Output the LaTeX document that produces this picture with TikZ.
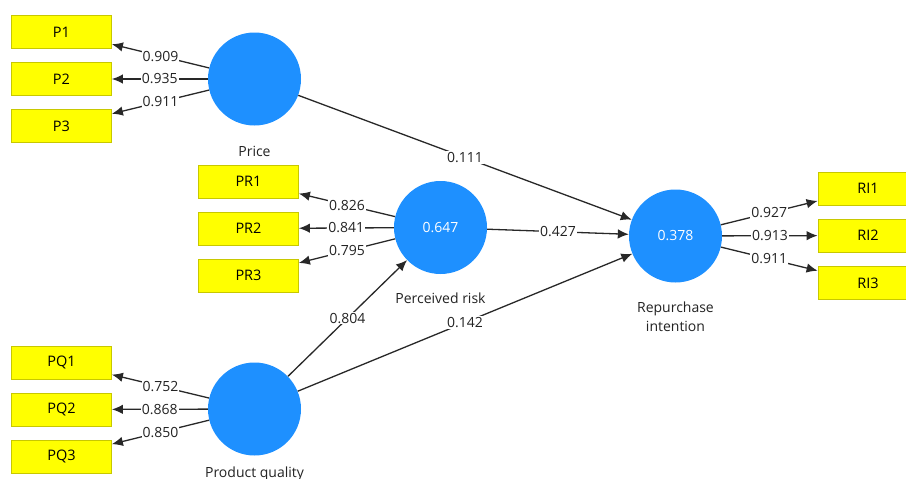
\documentclass[tikz,border=0pt]{standalone}
\usepackage{fontspec}
\setmainfont{Open Sans}
\usetikzlibrary{arrows.meta}
\definecolor{lvblue}{RGB}{30,144,255}
\definecolor{boxyellow}{RGB}{255,255,0}
\definecolor{boxedge}{RGB}{200,200,0}
\definecolor{linegray}{RGB}{40,40,40}
\definecolor{txtgray}{RGB}{35,35,35}
\begin{document}
\begin{tikzpicture}[x=1pt,y=-1pt,
  latent/.style={circle, fill=lvblue, minimum size=93pt, inner sep=0pt, text=white, font=\fontsize{14}{16}\selectfont},
  indicator/.style={rectangle, fill=boxyellow, draw=boxedge, line width=0.8pt, minimum width=100pt, minimum height=33pt, inner sep=0pt, text=black, font=\fontsize{14.5}{16}\selectfont},
  conn/.style={draw=linegray, line width=1.3pt, -{Latex[length=11pt,width=9.5pt]}},
  weight/.style={midway, fill=white, inner sep=1pt, text=txtgray, font=\fontsize{14}{16}\selectfont},
  caption/.style={text=txtgray, font=\fontsize{14}{19}\selectfont, align=center}]
\clip (0,0) rectangle (906,479);
\fill[white] (0,0) rectangle (906,479);

% latent variables
\node[latent] (price) at (254.5,79) {};
\node[latent] (pr) at (440.5,227.5) {0.647};
\node[latent] (pq) at (254.5,409) {};
\node[latent] (ri) at (675.5,236) {0.378};

% captions
\node[caption] (priceL) at (254.5,151) {Price};
\node[caption] (prL) at (440.5,298) {Perceived risk};
\node[caption] (pqL) at (254.5,474) {Product quality};
\node[caption] (riL) at (675.5,316.5) {Repurchase\\intention};

% indicators
\node[indicator] (p1) at (61.5,32) {P1};
\node[indicator] (p2) at (61.5,79) {P2};
\node[indicator] (p3) at (61.5,126) {P3};
\node[indicator] (pr1) at (248.5,181.5) {PR1};
\node[indicator] (pr2) at (248.5,228.5) {PR2};
\node[indicator] (pr3) at (248.5,275.5) {PR3};
\node[indicator] (pq1) at (61.5,362.5) {PQ1};
\node[indicator] (pq2) at (61.5,409.5) {PQ2};
\node[indicator] (pq3) at (61.5,456.5) {PQ3};
\node[indicator] (ri1) at (868,188.5) {RI1};
\node[indicator] (ri2) at (868,235.5) {RI2};
\node[indicator] (ri3) at (868,283) {RI3};

% outer loadings
\draw[conn] (price) -- node[weight] (w1) {0.909} (p1);
\draw[conn] (price) -- node[weight] (w2) {0.935} (p2);
\draw[conn] (price) -- node[weight] (w3) {0.911} (p3);
\draw[conn] (pr) -- node[weight] (w4) {0.826} (pr1);
\draw[conn] (pr) -- node[weight] (w5) {0.841} (pr2);
\draw[conn] (pr) -- node[weight] (w6) {0.795} (pr3);
\draw[conn] (pq) -- node[weight] (w7) {0.752} (pq1);
\draw[conn] (pq) -- node[weight] (w8) {0.868} (pq2);
\draw[conn] (pq) -- node[weight] (w9) {0.850} (pq3);
\draw[conn] (ri) -- node[weight] (w10) {0.927} (ri1);
\draw[conn] (ri) -- node[weight] (w11) {0.913} (ri2);
\draw[conn] (ri) -- node[weight] (w12) {0.911} (ri3);

% structural paths
\draw[conn] (price) -- node[weight] (s1) {0.111} (ri);
\draw[conn] (pr) -- node[weight] (s2) {0.427} (ri);
\draw[conn] (pq) -- node[weight] (s3) {0.804} (pr);
\draw[conn] (pq) -- node[weight] (s4) {0.142} (ri);
\end{tikzpicture}
\end{document}
